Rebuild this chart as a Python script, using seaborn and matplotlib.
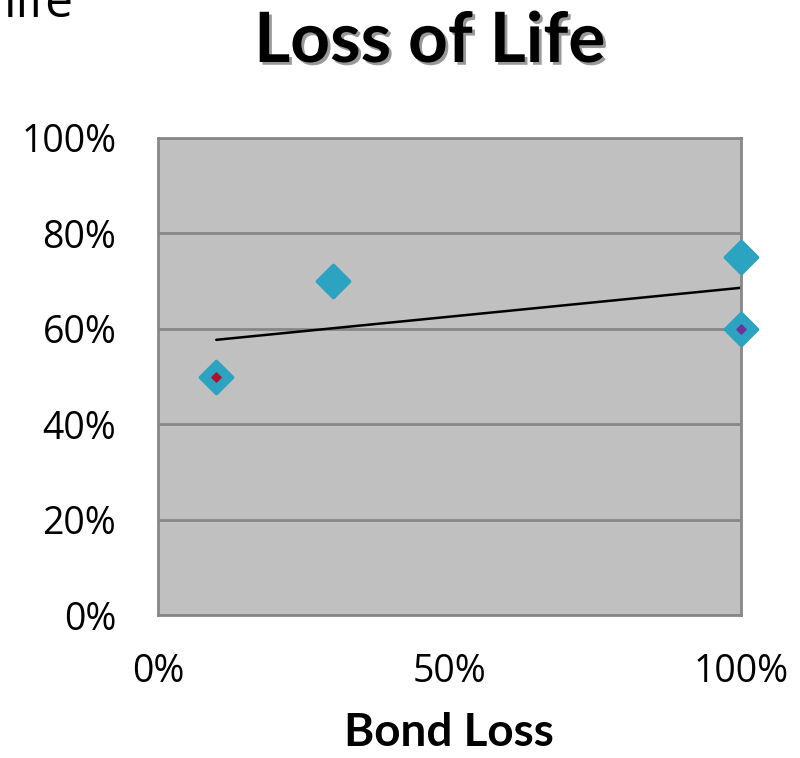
import matplotlib
matplotlib.use("Agg")
import matplotlib.pyplot as plt
import matplotlib.patheffects as pe
from matplotlib.ticker import PercentFormatter
import seaborn as sns
import pandas as pd
import numpy as np

# data
bond_loss = [0.10, 0.30, 1.00, 1.00]
loss_of_life = [0.50, 0.70, 0.75, 0.60]
inner_red_x = [0.10]
inner_red_y = [0.50]
inner_purple_x = [1.00]
inner_purple_y = [0.60]
x_ticks = [0.0, 0.5, 1.0]
y_ticks = [0.0, 0.2, 0.4, 0.6, 0.8, 1.0]

df = pd.DataFrame({"Bond Loss": bond_loss, "Loss of Life": loss_of_life})

sns.set_theme(style="white")
plt.rcParams['font.family'] = ['Open Sans', 'DejaVu Sans']
plt.rcParams['text.color'] = 'black'

fig = plt.figure(figsize=(8, 7.58), dpi=100)
ax = fig.add_axes([158/800, (758-615)/758, 583/800, 477/758])
ax.set_facecolor("#c0c0c0")

for y in y_ticks:
    ax.axhline(y, color="#878787", lw=2, zorder=0.5)

sns.regplot(data=df, x="Bond Loss", y="Loss of Life", scatter=False, ci=None,
            truncate=True, ax=ax, line_kws=dict(color="black", lw=1.8, zorder=2))
sns.scatterplot(data=df, x="Bond Loss", y="Loss of Life", ax=ax, marker="D",
                s=270, color="#2ca3c0", edgecolor="#2ca3c0", linewidth=2.5,
                zorder=3, clip_on=False)
ax.scatter(inner_red_x, inner_red_y, marker="D", s=22, color="#b0102a",
           zorder=4, clip_on=False)
ax.scatter(inner_purple_x, inner_purple_y, marker="D", s=22, color="#7030a0",
           zorder=4, clip_on=False)

ax.set_xlim(0, 1)
ax.set_ylim(0, 1)
ax.set_xticks(x_ticks)
ax.set_yticks(y_ticks)
ax.xaxis.set_major_formatter(PercentFormatter(1.0, decimals=0))
ax.yaxis.set_major_formatter(PercentFormatter(1.0, decimals=0))
ax.tick_params(axis="both", labelsize=27, length=0, colors="black")
ax.tick_params(axis="x", pad=27)
ax.tick_params(axis="y", pad=30)
for s in ax.spines.values():
    s.set_color("#878787")
    s.set_linewidth(2)

ax.set_xlabel("")
ax.set_ylabel("")
fig.text(449/800, 1 - 746/758, "Bond Loss", ha="center", va="baseline",
         fontsize=33, fontweight="bold", family=["Lato", "DejaVu Sans"], color="black")

fig.text(430/800, 1 - 62/758, "Loss of Life", ha="center", va="baseline",
         fontsize=50, fontweight="bold", family=["Lato", "DejaVu Sans"], color="black",
         path_effects=[pe.SimplePatchShadow(offset=(2, -2), shadow_rgbFace="#555555", alpha=0.6),
                       pe.Normal()])
fig.text(4/800, 1 - 17/758, "life", ha="left", va="baseline", fontsize=36, color="black")

fig.savefig("out.png", dpi=100)
